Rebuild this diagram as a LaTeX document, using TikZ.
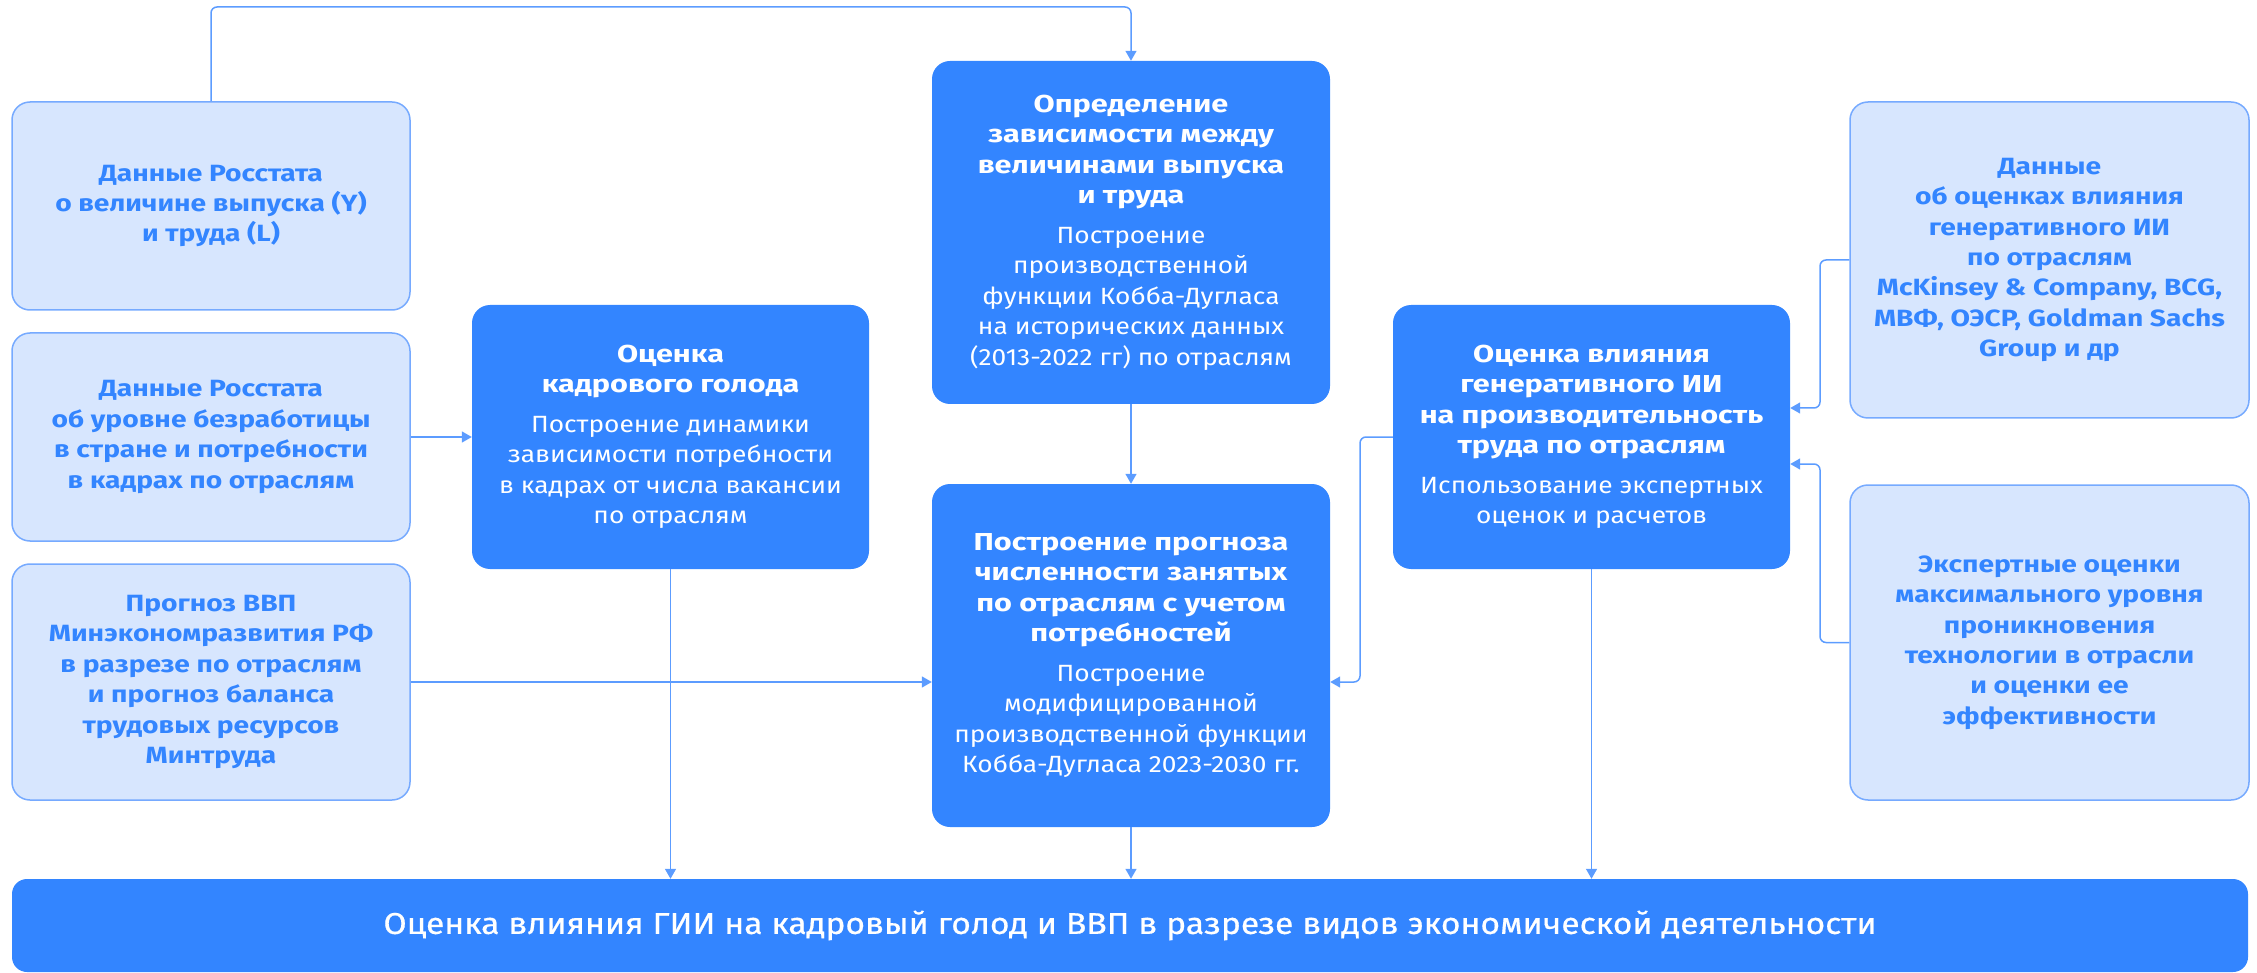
\documentclass[tikz,border=0pt]{standalone}
\usepackage{fontspec}
\setmainfont{Fira Sans}[FakeStretch=1.12]
\newfontfamily\ftitle{Fira Sans}[FakeStretch=1.25]
\newfontfamily\flbox{Fira Sans}[FakeStretch=1.2]
\newfontfamily\fmed{Fira Sans}[FakeStretch=1.12, FakeBold=0.6]
\usetikzlibrary{arrows.meta}
\definecolor{dkblue}{HTML}{3385FF}
\definecolor{ltfill}{HTML}{D7E6FE}
\definecolor{ltline}{HTML}{76AAFF}
\definecolor{conncol}{HTML}{5C9CFF}
\newcommand\tb[1]{{\ftitle\bfseries\fontsize{24.5}{30.5}\selectfont #1}}
\tikzset{
  base/.style={rectangle, rounded corners=18pt, inner sep=0pt, align=center},
  lowered/.style={execute at begin node={\rule{0pt}{32pt}}},
  lightbox/.style={base, lowered, fill=ltfill, draw=ltline, line width=1.5pt, text=dkblue,
    font=\flbox\bfseries\fontsize{23.5}{30.4}\selectfont},
  darkbox/.style={base, fill=dkblue, text=white, font=\fontsize{23.5}{30.5}\selectfont},
  arr/.style={draw=conncol, line width=1.5pt, rounded corners=6pt,
    -{Triangle[length=10pt,width=11pt]}},
}
\begin{document}
\begin{tikzpicture}[x=1pt,y=-1pt]
\useasboundingbox (0,0) rectangle (2257,973);

% left input boxes
\node[lightbox, minimum width=398pt, minimum height=208pt] (L1) at (211,206)
  {Данные Росстата\\о величине выпуска (Y)\\и труда (L)};
\node[lightbox, minimum width=398pt, minimum height=208pt] (L2) at (211,437)
  {Данные Росстата\\об уровне безработицы\\в стране и потребности\\в кадрах по отраслям};
\node[lightbox, minimum width=398pt, minimum height=236pt] (L3) at (211,682)
  {Прогноз ВВП\\Минэкономразвития РФ\\в разрезе по отраслям\\и прогноз баланса\\трудовых ресурсов\\Минтруда};

% middle dark boxes
\node[darkbox, lowered, minimum width=397pt, minimum height=264pt] (K) at (670.5,437)
  {\tb{Оценка}\\\tb{кадрового голода}\\[9pt]Построение динамики\\зависимости потребности\\в кадрах от числа вакансии\\по отраслям};
\node[darkbox, lowered, minimum width=398pt, minimum height=343pt] (O) at (1131,232.5)
  {\tb{Определение}\\\tb{зависимости между}\\\tb{величинами выпуска}\\\tb{и труда}\\[9pt]Построение\\производственной\\функции Кобба-Дугласа\\на исторических данных\\(2013-2022 гг) по отраслям};
\node[darkbox, lowered, minimum width=398pt, minimum height=343pt] (P) at (1131,655.5)
  {\tb{Построение прогноза}\\\tb{численности занятых}\\\tb{по отраслям с учетом}\\\tb{потребностей}\\[9pt]Построение\\модифицированной\\производственной функции\\Кобба-Дугласа 2023-2030 гг.};
\node[darkbox, lowered, minimum width=397pt, minimum height=264pt] (G) at (1591.5,437)
  {\tb{Оценка влияния}\\\tb{генеративного ИИ}\\\tb{на производительность}\\\tb{труда по отраслям}\\[9pt]Использование экспертных\\оценок и расчетов};

% right input boxes
\node[lightbox, minimum width=399pt, minimum height=316pt] (R1) at (2049.5,260)
  {Данные\\об оценках влияния\\генеративного ИИ\\по отраслям\\McKinsey \& Company, BCG,\\МВФ, ОЭСР, Goldman Sachs\\Group и др};
\node[lightbox, minimum width=399pt, minimum height=315pt] (R2) at (2049.5,642.5)
  {Экспертные оценки\\максимального уровня\\проникновения\\технологии в отрасли\\и оценки ее\\эффективности};

% bottom result
\node[darkbox, rounded corners=15pt, minimum width=2236pt, minimum height=93pt,
  font=\fmed\fontsize{30}{36}\selectfont] (B) at (1130,925.5)
  {Оценка влияния ГИИ на кадровый голод и ВВП в разрезе видов экономической деятельности};

% helper coordinates
\coordinate (top) at (0,7);
\coordinate (r1a) at (1820,408);
\coordinate (r2a) at (1820,464);
\coordinate (ga) at (1360,682);

% connectors
\draw[arr] (L1.north) |- (top -| O.north) -- (O.north);
\draw[arr] (L2.east) -- (K.west);
\draw[arr] (L3.east) -- (L3.east -| P.west);
\draw[arr] (O.south) -- (P.north);
\draw[arr] (K.south) -- (K.south |- B.north);
\draw[arr] (P.south) -- (P.south |- B.north);
\draw[arr] (G.south) -- (G.south |- B.north);
\draw[arr] (R1.west) -| (r1a) -- (r1a -| G.east);
\draw[arr] (R2.west) -| (r2a) -- (r2a -| G.east);
\draw[arr] (G.west) -| (ga) -- (ga -| P.east);
\end{tikzpicture}
\end{document}
